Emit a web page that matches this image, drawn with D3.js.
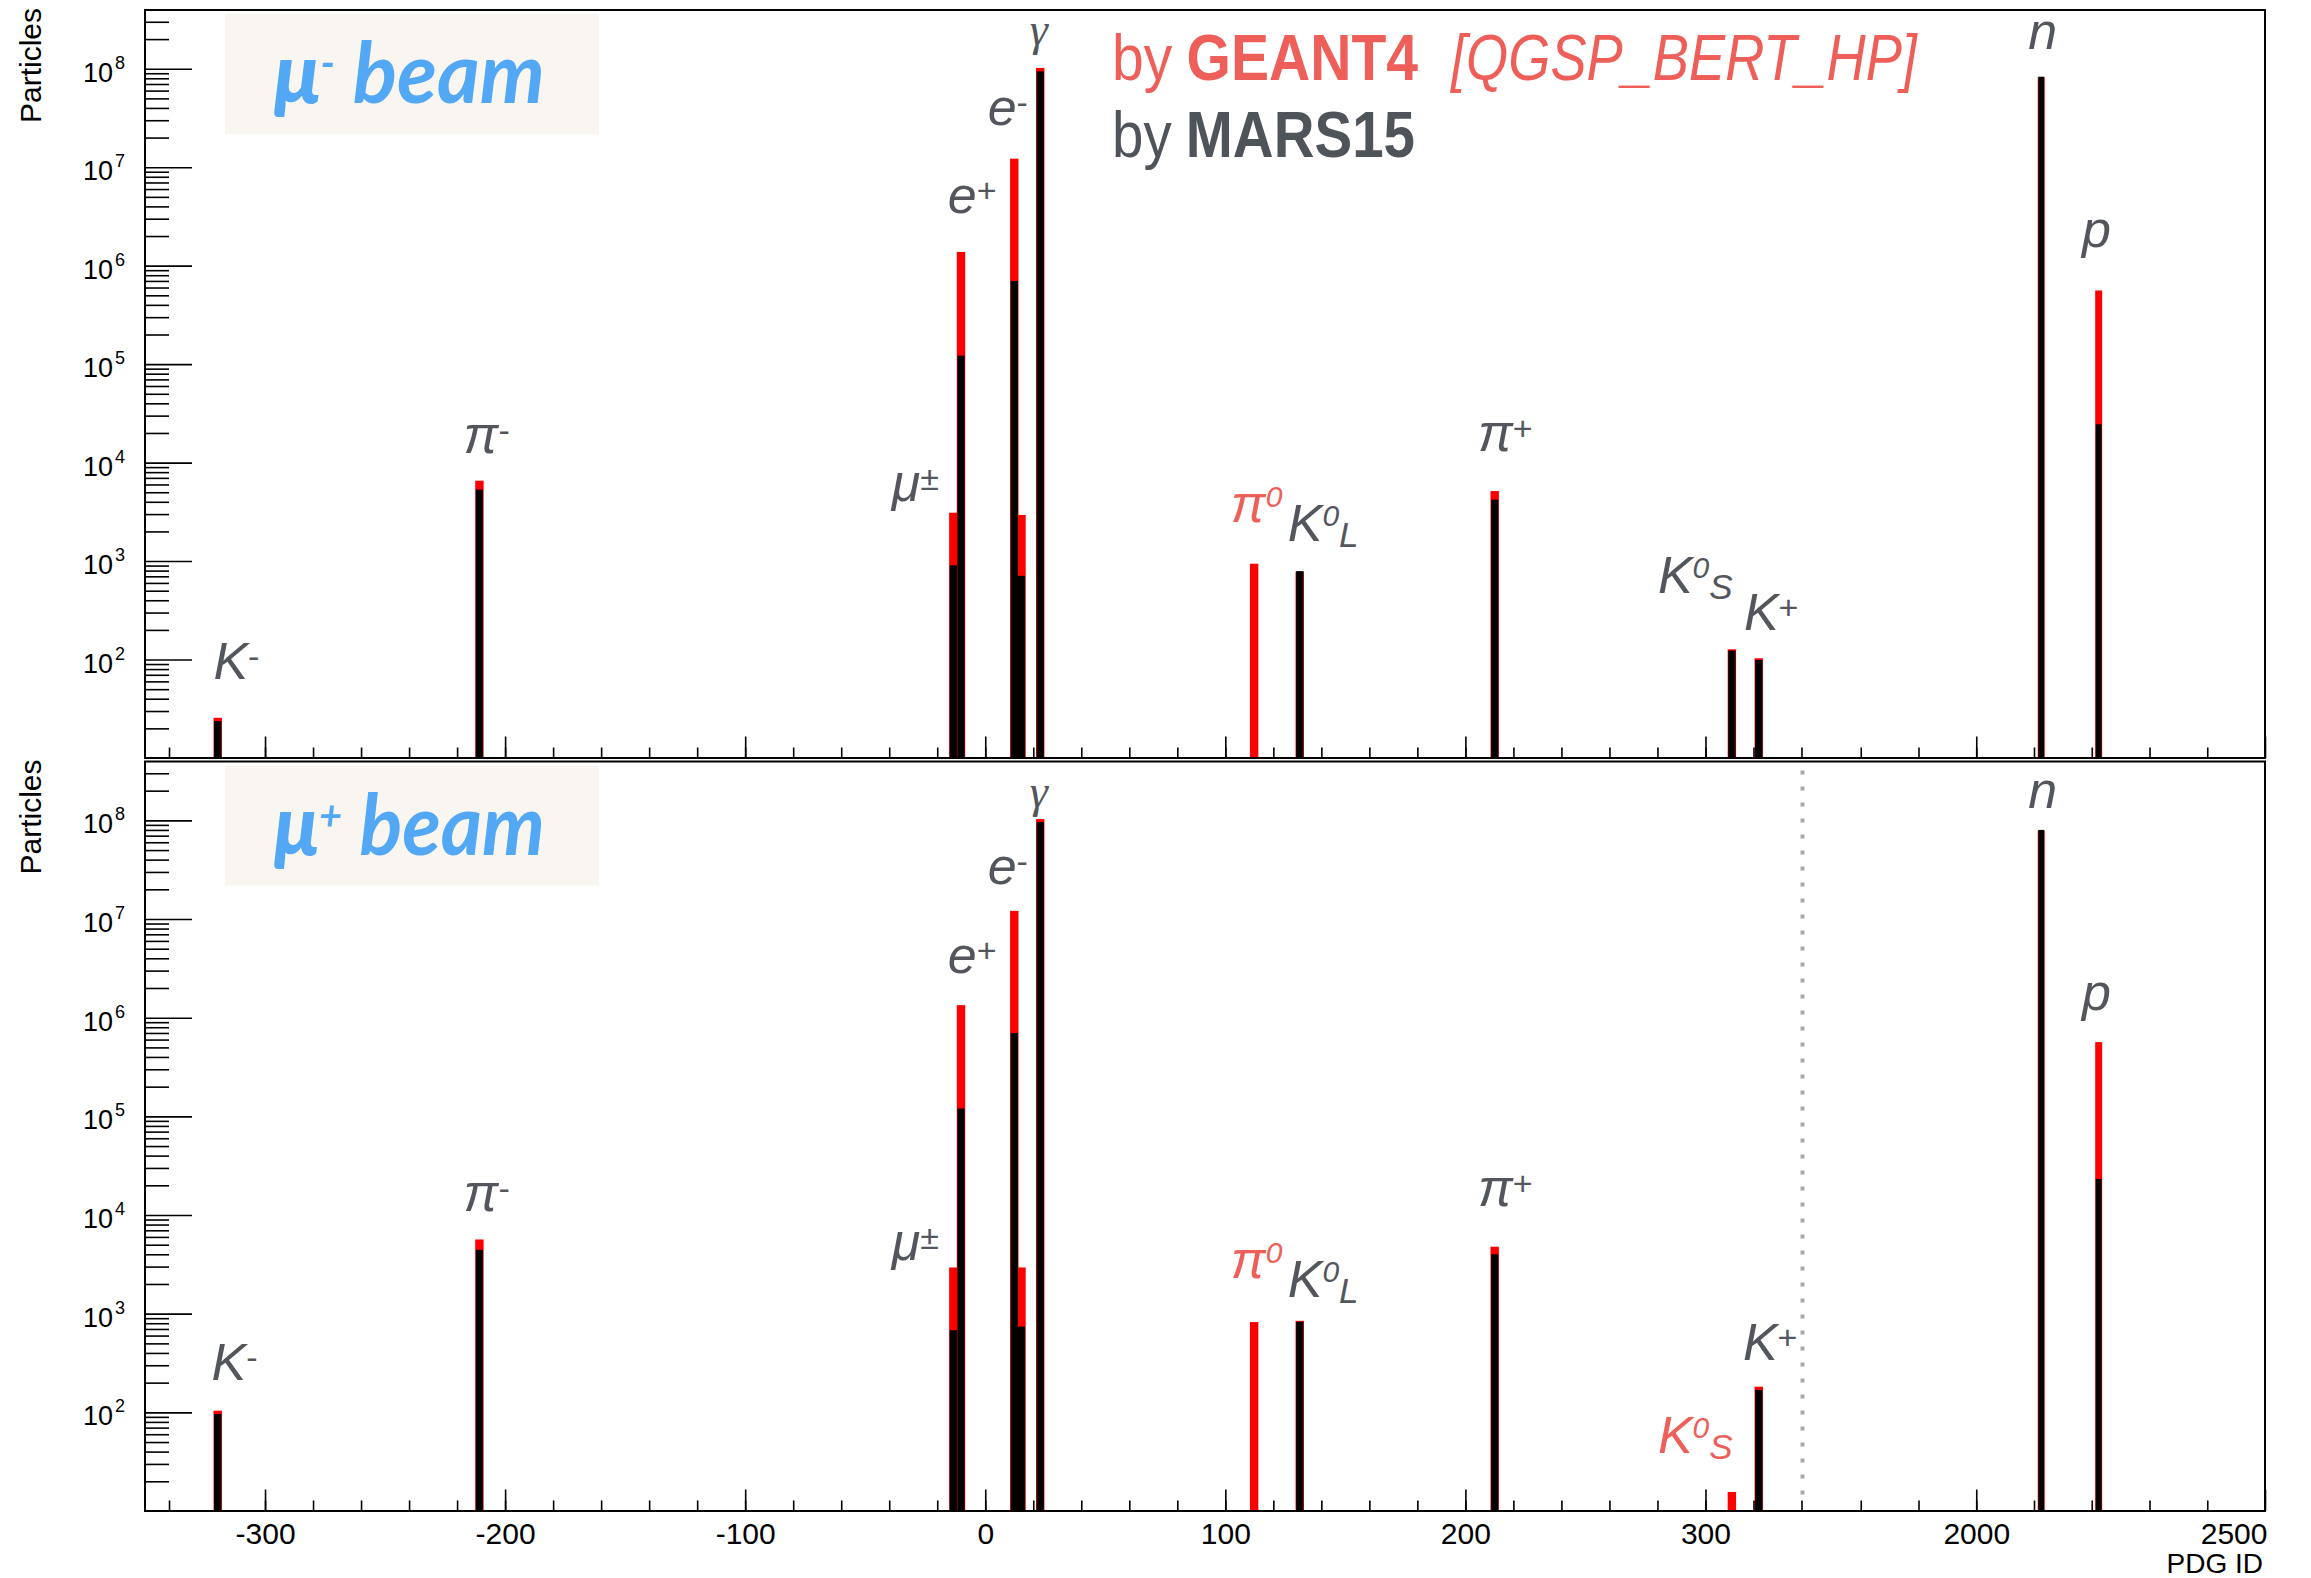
<!DOCTYPE html>
<html>
<head>
<meta charset="utf-8">
<script src="https://cdn.jsdelivr.net/npm/d3@7"></script>
<style>
  body { margin: 0; background: #fff; }
  svg { display: block; }
  text { font-family: "Liberation Sans", Arial, sans-serif; }
</style>
</head>
<body>
<svg id="chart" width="2311" height="1578"></svg>
<script>
// particles, in the order of the bars (PDG code and the bin centre they were filled at)
const particles = ['K-', 'pi-', 'mu+', 'e+', 'e-', 'mu-', 'gamma', 'pi0', 'K0L', 'pi+', 'K0S', 'K+', 'n', 'p'];
const pdgCodes = [-321, -211, -13, -11, 11, 13, 22, 111, 130, 211, 310, 321, 2112, 2212];
const binCenters = [-319.7, -210.7, -13.3, -10.1, 12.1, 15.1, 22.9, 112, 131, 212.2, 311, 322.2, 2112.5, 2212];

// counts, mu- beam (top panel)
const muMinusGeant = [25.6, 6550, 3100, 1.38e6, 1.22e7, 2940, 1.02e8, 940, 780, 5140, 127, 103, 8.2e7, 5.6e5];
const muMinusMars = [23.7, 5320, 906, 1.22e5, 7.0e5, 708, 9.4e7, null, 790, 4200, 123, 99, 8.3e7, 2.45e4];
// counts, mu+ beam (bottom panel)
const muPlusGeant = [104, 5650, 2940, 1.34e6, 1.21e7, 2940, 1.03e8, 822, 847, 4770, 15.6, 182, 7.9e7, 5.66e5];
const muPlusMars = [96, 4440, 680, 1.2e5, 7.0e5, 740, 9.6e7, null, 828, 4000, null, 169, 8.0e7, 2.32e4];

// particle labels: base symbol, superscript, subscript, and which bar they belong to
const labelBase = ['K', 'π', 'μ', 'e', 'e', 'γ', 'π', 'K', 'π', 'K', 'K', 'n', 'p'];
const labelSup = ['-', '-', '±', '+', '-', '', '0', '0', '+', '0', '+', '', ''];
const labelSub = ['', '', '', '', '', '', '', 'L', '', 'S', '', '', ''];
const labelBar = [0, 1, 2, 3, 4, 6, 7, 8, 9, 10, 11, 12, 13];
// label anchor (PDG axis value, counts at the baseline)
const labelXTop = [-321.5, -217.3, -39, -15.6, 1.0, 18.5, 102.3, 126, 205.2, 280.2, 316, 2090, 2183];
const labelYTop = [63, 1.26e4, 4.1e3, 3.4e6, 2.7e7, 1.75e8, 2.5e3, 1.6e3, 1.3e4, 470, 200, 1.6e8, 1.55e6];
const labelXBottom = [-322.3, -217.3, -39, -15.6, 1.0, 18.5, 102.3, 126, 205.2, 280.2, 315.6, 2090, 2183];
const labelYBottom = [214, 1.1e4, 3.47e3, 2.85e6, 2.24e7, 1.36e8, 2.29e3, 1.48e3, 1.23e4, 39, 339, 1.35e8, 1.2e6];

// axis ticks
const xMajorTicks = [-300, -200, -100, 0, 100, 200, 300, 2000, 2500];
const xMinorTicks = d3.range(-340, 341, 20).concat(d3.range(1800, 2500, 100));
const yMajorTicks = [1e2, 1e3, 1e4, 1e5, 1e6, 1e7, 1e8];

const W = 2311;
const geantColor = '#ff0000';
const marsColor = '#000000';
const labelColor = '#53575d';
const legendRed = '#ef5f59';
const legendGrey = '#4f545a';

const svg = d3.select('#chart');
svg.append('rect').attr('width', W).attr('height', 1578).attr('fill', '#fff');

// writes pieces of text one after the other, then squeezes them to a given width
function fitText(parent, parts, x, y, width, color) {
    const g = parent.append('g').attr('fill', color)
        .style('font-family', 'Lato, "Open Sans", sans-serif')
        .style('font-size', '64px');
    let cursor = 0;
    parts.forEach(pt => {
        const t = g.append('text').attr('x', cursor).attr('y', 0)
            .style('font-weight', pt.bold ? 700 : 400)
            .style('font-style', pt.italic ? 'italic' : 'normal')
            .text(pt.text);
        cursor += t.node().getComputedTextLength() + (pt.gap || 0);
    });
    g.attr('transform', `translate(${x},${y}) scale(${width / cursor},1)`);
}

// broken x axis: linear up to 340, then jumps to 1700
const x = d3.scaleLinear()
    .domain([-350, 340, 1700, 2500])
    .range([145, 1801.5, 1803, 2265]);

const panels = [
    { top: 10, bottom: 758, beam: '-', geant: muMinusGeant, mars: muMinusMars,
      lx: labelXTop, ly: labelYTop, labels: false, gap: false },
    { top: 761.5, bottom: 1511, beam: '+', geant: muPlusGeant, mars: muPlusMars,
      lx: labelXBottom, ly: labelYBottom, labels: true, gap: true }
];

function binWidth(c) { return c > 1000 ? 10 : 3; }

panels.forEach(p => {
    const y = d3.scaleLog().domain([10, 3.95e8]).range([p.bottom, p.top]);
    const g = svg.append('g');

    // beam tag
    g.append('rect')
        .attr('x', 225).attr('y', p.top + 4)
        .attr('width', 374).attr('height', 120)
        .attr('fill', '#f9f6f2');
    const tag = g.append('text')
        .attr('x', 274).attr('y', p.top + 93)
        .attr('fill', '#52a8f5')
        .attr('textLength', 271).attr('lengthAdjust', 'spacingAndGlyphs')
        .style('font-family', 'Lato, "Open Sans", sans-serif')
        .style('font-style', 'italic')
        .style('font-size', '84px');
    tag.append('tspan').style('font-weight', 900).text('μ');
    tag.append('tspan').attr('dy', -25).style('font-size', '42px').style('font-weight', 700)
        .text(p.beam === '-' ? '-' : '+');
    tag.append('tspan').attr('dy', 25).style('font-weight', 700).text(' beam');

    // gap marker between the two axis pieces
    if (p.gap) {
        g.append('line')
            .attr('x1', x(340) + 1).attr('x2', x(340) + 1)
            .attr('y1', p.top + 9).attr('y2', p.bottom - 6)
            .attr('stroke', '#aaaaaa').attr('stroke-width', 4)
            .attr('stroke-dasharray', '4,12');
    }

    // GEANT4 bars first, MARS15 on top
    const bar = (vals, color, pad) => g.append('g')
        .selectAll('rect')
        .data(binCenters.map((c, i) => ({ c, v: vals[i] })).filter(d => d.v != null))
        .join('rect')
        .attr('x', d => x(d.c - binWidth(d.c) / 2) - pad)
        .attr('width', d => x(d.c + binWidth(d.c) / 2) - x(d.c - binWidth(d.c) / 2) + 2 * pad)
        .attr('y', d => y(d.v))
        .attr('height', d => p.bottom - y(d.v))
        .attr('fill', color);
    bar(p.geant, geantColor, 0.6);
    bar(p.mars, marsColor, 0);

    // particle labels
    labelBase.forEach((b, i) => {
        const red = p.mars[labelBar[i]] == null;
        const t = g.append('text')
            .attr('x', x(p.lx[i])).attr('y', y(p.ly[i]))
            .attr('fill', red ? legendRed : labelColor)
            .style('font-style', 'italic')
            .style('font-size', '52px');
        const base = t.append('tspan').text(b);
        if (b === 'γ') {
            t.style('font-size', '46px');
            base.style('font-family', '"Liberation Serif", serif');
        }
        let shift = 0;
        if (labelSup[i]) {
            const zero = labelSup[i] === '0';
            shift = zero ? -15 : -11;
            t.append('tspan').attr('dy', shift)
                .style('font-size', zero ? '30px' : '34px')
                .style('font-style', zero ? 'italic' : 'normal')
                .text(labelSup[i]);
        }
        if (labelSub[i]) {
            t.append('tspan').attr('dy', 6 - shift)
                .style('font-size', '35px')
                .text(labelSub[i]);
        }
    });

    // axes: ticks point into the frame
    const xMinor = d3.axisBottom(x).tickValues(xMinorTicks).tickSize(-10.5).tickSizeOuter(0).tickFormat('');
    const xMajor = d3.axisBottom(x).tickValues(xMajorTicks).tickSize(-21.5).tickSizeOuter(0)
        .tickPadding(33).tickFormat(d => p.labels ? String(d) : '');
    g.append('g').attr('transform', `translate(0,${p.bottom})`).call(xMinor);
    const xa = g.append('g').attr('transform', `translate(0,${p.bottom})`).call(xMajor);
    xa.selectAll('text').style('font-size', '30px').attr('fill', '#000').attr('dy', 0)
        .attr('text-anchor', d => d === 2500 ? 'end' : 'middle')
        .attr('x', d => d === 2500 ? 2 : 0);

    const yMinorTicks = [];
    for (let e = 1; e <= 8; e++) {
        for (let m = 2; m <= 9; m++) {
            const v = m * Math.pow(10, e);
            if (v < 3.95e8 && !(e === 8 && m > 3)) yMinorTicks.push(v);
        }
    }
    const yMinor = d3.axisLeft(y).tickValues(yMinorTicks).tickSize(-24).tickSizeOuter(0).tickFormat('');
    const yMajor = d3.axisLeft(y).tickValues(yMajorTicks).tickSize(-47).tickSizeOuter(0).tickFormat('');
    g.append('g').attr('transform', 'translate(145,0)').call(yMinor);
    g.append('g').attr('transform', 'translate(145,0)').call(yMajor);
    g.selectAll('.domain').remove();
    g.selectAll('.tick line').attr('stroke', '#000').attr('stroke-width', 1.6);

    // y tick labels as 10^n
    yMajorTicks.forEach(v => {
        g.append('text')
            .attr('x', 113).attr('y', y(v) + 13)
            .attr('text-anchor', 'end')
            .style('font-size', '27px')
            .text('10');
        g.append('text')
            .attr('x', 115).attr('y', y(v))
            .style('font-size', '18px')
            .text(Math.round(Math.log10(v)));
    });

    // frame
    g.append('rect')
        .attr('x', 145).attr('y', p.top)
        .attr('width', 2265 - 145).attr('height', p.bottom - p.top)
        .attr('fill', 'none').attr('stroke', '#000').attr('stroke-width', 2);

    // y title
    g.append('text')
        .attr('transform', `translate(41,${p.top - 2}) rotate(-90)`)
        .attr('text-anchor', 'end')
        .style('font-size', '30px')
        .text('Particles');
});

// x title
svg.append('text')
    .attr('x', 2263).attr('y', 1573)
    .attr('text-anchor', 'end')
    .style('font-size', '28px')
    .text('PDG ID');

// legend
fitText(svg, [{ text: 'by', gap: 16 }, { text: 'GEANT4', bold: true }], 1112, 80, 306, legendRed);
fitText(svg, [{ text: '[QGSP_BERT_HP]', italic: true }], 1451, 80, 466, legendRed);
fitText(svg, [{ text: 'by', gap: 16 }, { text: 'MARS15', bold: true }], 1112, 157, 303, legendGrey);
</script>
</body>
</html>
